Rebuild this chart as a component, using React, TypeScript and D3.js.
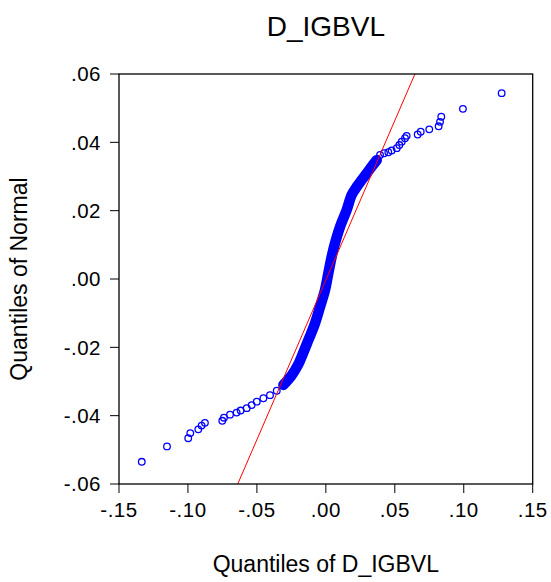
import React from "react";
import * as d3 from "d3";

const chartTitle = "D_IGBVL";
const xAxisTitle = "Quantiles of D_IGBVL";
const yAxisTitle = "Quantiles of Normal";

const xTickValues = [-0.15, -0.1, -0.05, 0, 0.05, 0.1, 0.15];
const xTickLabels = ["-.15", "-.10", "-.05", ".00", ".05", ".10", ".15"];
const yTickValues = [0.06, 0.04, 0.02, 0, -0.02, -0.04, -0.06];
const yTickLabels = [".06", ".04", ".02", ".00", "-.02", "-.04", "-.06"];

// lower tail: sample quantile (x) vs normal quantile (y)
const lowerTailX = [-0.1335, -0.1152, -0.0998, -0.0983, -0.0925, -0.0901, -0.0877, -0.0751, -0.0739, -0.0695, -0.0647, -0.0618, -0.0574, -0.0538, -0.0501, -0.0453, -0.0405, -0.0356];
const lowerTailY = [-0.0535, -0.049, -0.0466, -0.0451, -0.044, -0.0429, -0.0421, -0.0415, -0.0406, -0.0397, -0.0391, -0.0385, -0.0378, -0.0369, -0.0359, -0.0349, -0.034, -0.0327];

// dense central band
const bandX = [-0.0308, -0.0248, -0.02, -0.0175, -0.0127, -0.0079, -0.0042, -0.0006, 0.0018, 0.0042, 0.0066, 0.0103, 0.0151, 0.0187, 0.0224, 0.026, 0.0296, 0.0332, 0.0369];
const bandY = [-0.031, -0.0282, -0.025, -0.0227, -0.0179, -0.013, -0.0081, -0.0032, 0.0017, 0.0065, 0.0104, 0.0153, 0.0202, 0.0246, 0.027, 0.029, 0.0309, 0.0329, 0.0348];

// upper tail
const upperTailX = [0.0393, 0.0422, 0.0453, 0.0477, 0.0514, 0.0533, 0.055, 0.0574, 0.0586, 0.0666, 0.0688, 0.075, 0.0818, 0.0828, 0.0837, 0.0994, 0.1275];
const upperTailY = [0.0363, 0.0368, 0.0371, 0.0376, 0.0383, 0.0392, 0.0402, 0.0412, 0.0419, 0.0423, 0.0431, 0.0438, 0.0447, 0.046, 0.0475, 0.0498, 0.0544];

// reference line endpoints
const refLineX = [-0.0639, 0.0646];
const refLineY = [-0.06, 0.06];

const W = 551;
const H = 582;
const left = 119;
const right = 532.7;
const top = 74;
const bottom = 484;
const FONT = "'Liberation Sans', Arial, Helvetica, sans-serif";

export default function App() {
  const x = d3.scaleLinear().domain([-0.15, 0.15]).range([left, right]);
  const y = d3.scaleLinear().domain([-0.06, 0.06]).range([bottom, top]);

  const allX = [...lowerTailX, ...bandX, ...upperTailX];
  const allY = [...lowerTailY, ...bandY, ...upperTailY];
  const pts = allX.map((v, i) => [v, allY[i]] as [number, number]);
  const bandPts = bandX.map((v, i) => [v, bandY[i]] as [number, number]);

  const bandLine = d3
    .line<[number, number]>()
    .x((d) => x(d[0]))
    .y((d) => y(d[1]))
    .curve(d3.curveCatmullRom);

  const refPts = refLineX.map((v, i) => [v, refLineY[i]] as [number, number]);
  const refLine = d3
    .line<[number, number]>()
    .x((d) => x(d[0]))
    .y((d) => y(d[1]));

  return (
    <svg
      width={W}
      height={H}
      style={{ position: "absolute", left: 0, top: 0, background: "#fff" }}
      fontFamily={FONT}
    >
      <rect x={0} y={0} width={W} height={H} fill="#fff" />
      <defs>
        <clipPath id="plotclip">
          <rect x={left} y={top} width={right - left} height={bottom - top} />
        </clipPath>
      </defs>

      <text x={(left + right) / 2} y={36} textAnchor="middle" fontSize={28} fill="#000">
        {chartTitle}
      </text>

      <g clipPath="url(#plotclip)">
        <path d={bandLine(bandPts) || ""} fill="none" stroke="#0000ff" strokeWidth={10.5} strokeLinecap="round" />
        {pts.map((p, i) => (
          <circle key={i} cx={x(p[0])} cy={y(p[1])} r={3.3} fill="none" stroke="#0000ff" strokeWidth={1.3} />
        ))}
        <path d={refLine(refPts) || ""} fill="none" stroke="#ff0000" strokeWidth={1} />
      </g>

      <rect x={left} y={top} width={right - left} height={bottom - top} fill="none" stroke="#000" strokeWidth={1.3} />

      {xTickValues.map((v, i) => (
        <g key={"xt" + i}>
          <line x1={x(v)} x2={x(v)} y1={bottom} y2={bottom + 9} stroke="#000" strokeWidth={1} />
          <text x={x(v)} y={517} textAnchor="middle" fontSize={20.5} letterSpacing={0.5} fill="#000">
            {xTickLabels[i]}
          </text>
        </g>
      ))}

      {yTickValues.map((v, i) => (
        <g key={"yt" + i}>
          <line x1={left - 9} x2={left} y1={y(v)} y2={y(v)} stroke="#000" strokeWidth={1} />
          <text x={101} y={y(v)} dy="0.36em" textAnchor="end" fontSize={20.5} letterSpacing={0.5} fill="#000">
            {yTickLabels[i]}
          </text>
        </g>
      ))}

      <text x={(left + right) / 2} y={572} textAnchor="middle" fontSize={23} fill="#000">
        {xAxisTitle}
      </text>
      <text
        transform={`translate(27, ${(top + bottom) / 2}) rotate(-90)`}
        textAnchor="middle"
        fontSize={23}
        fill="#000"
      >
        {yAxisTitle}
      </text>
    </svg>
  );
}
